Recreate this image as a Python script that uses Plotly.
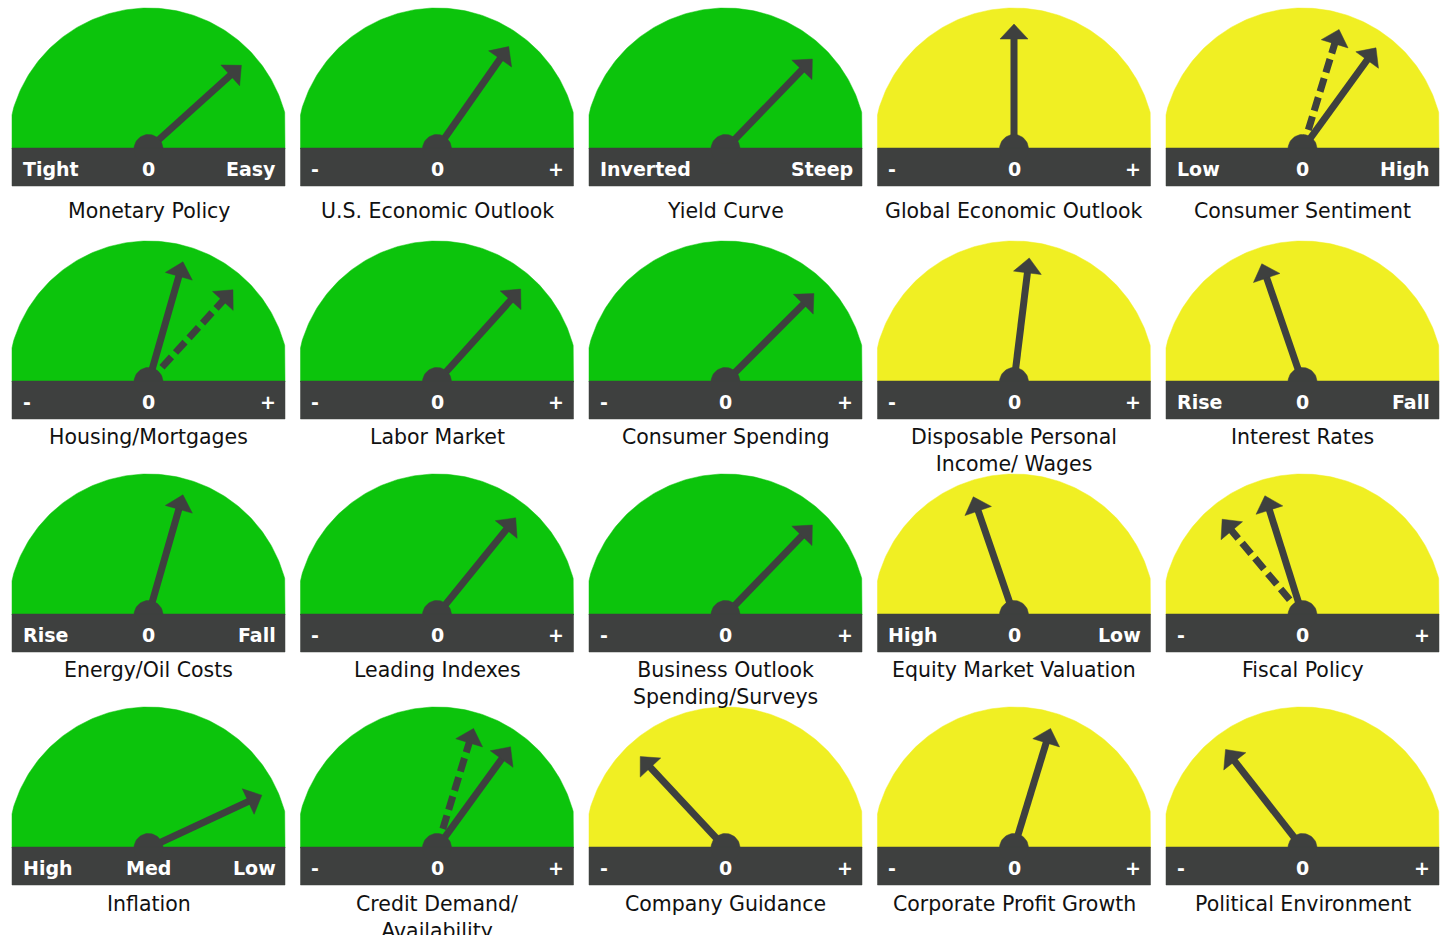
import numpy as np
import plotly.graph_objects as go

# gauge data, row by row (4 rows x 5 columns)
titles = [
    "Monetary Policy", "U.S. Economic Outlook", "Yield Curve", "Global Economic Outlook", "Consumer Sentiment",
    "Housing/Mortgages", "Labor Market", "Consumer Spending", "Disposable Personal<br>Income/ Wages", "Interest Rates",
    "Energy/Oil Costs", "Leading Indexes", "Business Outlook<br>Spending/Surveys", "Equity Market Valuation", "Fiscal Policy",
    "Inflation", "Credit Demand/<br>Availability", "Company Guidance", "Corporate Profit Growth", "Political Environment",
]
left_labels = [
    "Tight", "-", "Inverted", "-", "Low",
    "-", "-", "-", "-", "Rise",
    "Rise", "-", "-", "High", "-",
    "High", "-", "-", "-", "-",
]
mid_labels = [
    "0", "0", "", "0", "0",
    "0", "0", "0", "0", "0",
    "0", "0", "0", "0", "0",
    "Med", "0", "0", "0", "0",
]
right_labels = [
    "Easy", "+", "Steep", "+", "High",
    "+", "+", "+", "+", "Fall",
    "Fall", "+", "+", "Low", "+",
    "Low", "+", "+", "+", "+",
]
status = [
    "green", "green", "green", "yellow", "yellow",
    "green", "green", "green", "yellow", "yellow",
    "green", "green", "green", "yellow", "yellow",
    "green", "green", "yellow", "yellow", "yellow",
]
# needle direction in degrees (0 = far left end, 90 = straight up, 180 = far right)
needle_deg = [
    138, 125, 134, 90, 126,
    106, 132, 135, 97, 71,
    106, 129, 134, 71, 72.5,
    155, 126, 47, 107, 52,
]
# previous reading (dashed needle), None where not shown
dashed_deg = [
    None, None, None, None, 107,
    132.5, None, None, None, None,
    None, None, None, None, 50,
    None, 107, None, None, None,
]

COLORS = {"green": "#0cc40c", "yellow": "#f0ef23"}
DARK = "#3e403f"

# layout in pixels
N_COLS = 5
X0, DX = 148.5, 288.5
Y0, DY = 148, 233
HALF_W, DOME_R, BAR_H = 136.5, 141, 38
PIVOT_R = 14.5
NEEDLE_LEN, HEAD_LEN, HEAD_HALF = 125, 15, 14
TITLE_OFF = [62, 55, 55, 56]

dome_xy = {"green": ([], []), "yellow": ([], [])}
dark_x, dark_y = [], []
solid_x, solid_y = [], []
dash_x, dash_y = [], []
annotations = []

th = np.linspace(0, np.pi, 181)
circ = np.linspace(0, 2 * np.pi, 61)


def add_poly(xs, ys, px, py):
    xs.extend(list(px) + [px[0], None])
    ys.extend(list(py) + [py[0], None])


def needle(cx, cy, deg, lx, ly):
    a = np.radians(180 - deg)
    ux, uy = np.cos(a), -np.sin(a)
    tx, ty = cx + NEEDLE_LEN * ux, cy + NEEDLE_LEN * uy
    bx, by = tx - HEAD_LEN * ux, ty - HEAD_LEN * uy
    lx.extend([cx, bx + 4 * ux, None])
    ly.extend([cy, by + 4 * uy, None])
    nx, ny = -uy, ux
    add_poly(dark_x, dark_y,
             [tx, bx + HEAD_HALF * nx, bx - HEAD_HALF * nx],
             [ty, by + HEAD_HALF * ny, by - HEAD_HALF * ny])


for i, title in enumerate(titles):
    r, c = divmod(i, N_COLS)
    cx, cy = X0 + c * DX, Y0 + r * DY
    # dome
    px = np.clip(DOME_R * np.cos(th), -HALF_W, HALF_W) + cx
    py = cy + 1 - DOME_R * np.sin(th)
    add_poly(*dome_xy[status[i]], px, py)
    # bar
    add_poly(dark_x, dark_y,
             [cx - HALF_W, cx + HALF_W, cx + HALF_W, cx - HALF_W],
             [cy, cy, cy + BAR_H, cy + BAR_H])
    # pivot
    add_poly(dark_x, dark_y, cx + PIVOT_R * np.cos(circ), cy + 1 + PIVOT_R * np.sin(circ))
    if dashed_deg[i] is not None:
        needle(cx, cy + 1, dashed_deg[i], dash_x, dash_y)
    needle(cx, cy + 1, needle_deg[i], solid_x, solid_y)

    lab_font = dict(family="DejaVu Sans", size=19, color="white", weight="bold")
    ly = cy + 21
    annotations.append(dict(x=cx - 128, y=ly, text=left_labels[i], xanchor="left",
                            yanchor="middle", showarrow=False, font=lab_font))
    annotations.append(dict(x=cx, y=ly, text=mid_labels[i], xanchor="center",
                            yanchor="middle", showarrow=False, font=lab_font))
    annotations.append(dict(x=cx + 129, y=ly, text=right_labels[i], xanchor="right",
                            yanchor="middle", showarrow=False, font=lab_font))
    annotations.append(dict(x=cx, y=cy + TITLE_OFF[r] - 13, text=title,
                            xanchor="center", yanchor="top", showarrow=False,
                            font=dict(family="DejaVu Sans", size=20.5, color="#111111")))

fig = go.Figure()
for key in ("green", "yellow"):
    fig.add_trace(go.Scatter(x=dome_xy[key][0], y=dome_xy[key][1], mode="lines",
                             fill="toself", fillcolor=COLORS[key],
                             line=dict(width=0.5, color=COLORS[key]), hoverinfo="skip"))
fig.add_trace(go.Scatter(x=dash_x, y=dash_y, mode="lines",
                         line=dict(width=7, color=DARK, dash="14px,6px"), hoverinfo="skip"))
fig.add_trace(go.Scatter(x=solid_x, y=solid_y, mode="lines",
                         line=dict(width=7, color=DARK), hoverinfo="skip"))
fig.add_trace(go.Scatter(x=dark_x, y=dark_y, mode="lines", fill="toself", fillcolor=DARK,
                         line=dict(width=0.5, color=DARK), hoverinfo="skip"))

fig.update_layout(
    width=1444, height=935,
    margin=dict(l=0, r=0, t=0, b=0, pad=0),
    paper_bgcolor="white", plot_bgcolor="white",
    showlegend=False,
    xaxis=dict(range=[0, 1444], visible=False, fixedrange=True),
    yaxis=dict(range=[935, 0], visible=False, fixedrange=True),
    annotations=annotations,
)

fig.write_html("out.html", config={"displayModeBar": False},
               post_script="document.body.style.margin='0px';")
